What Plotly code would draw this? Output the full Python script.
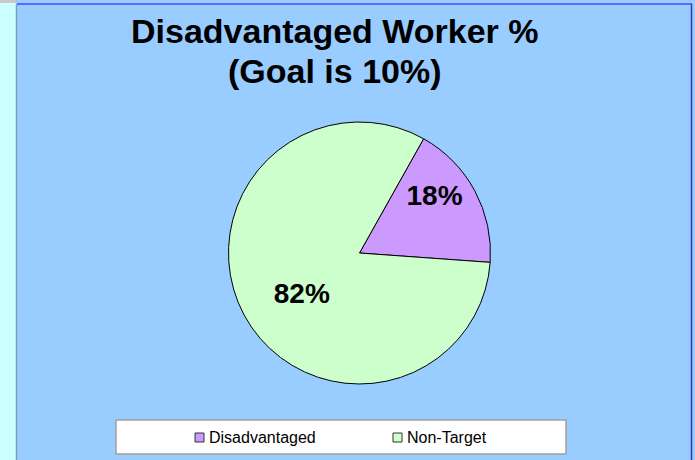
import plotly.graph_objects as go

labels = ["Disadvantaged", "Non-Target"]
values = [18, 82]
colors = ["#CC99FF", "#CCFFCC"]
title_lines = ["Disadvantaged Worker %", "(Goal is 10%)"]

W, H = 695, 460
def px(x): return x / W
def py(y): return 1 - y / H

FONT = "Arial, Liberation Sans"

fig = go.Figure()
fig.add_trace(go.Pie(
    labels=labels, values=values, sort=False,
    direction="clockwise", rotation=29.3,
    marker=dict(colors=colors, line=dict(color="black", width=1)),
    texttemplate=["%{percent:.0%}<br><span style='font-size:12px'> </span>",
                  "<span style='font-size:8px'> </span><br>%{percent:.0%}"],
    textposition="inside",
    insidetextorientation="horizontal",
    textfont=dict(family=FONT, size=28, color="black", weight="bold"),
    domain=dict(x=[px(228), px(491)], y=[py(384), py(122)]),
    hoverinfo="skip", showlegend=False,
))

shapes = [
    dict(type="rect", xref="paper", yref="paper", x0=0, x1=px(16), y0=0, y1=1,
         fillcolor="#CCFFFF", line=dict(width=0), layer="below"),
    dict(type="rect", xref="paper", yref="paper", x0=0, x1=px(16), y0=py(3), y1=1,
         fillcolor="#C8C8C8", line=dict(width=0), layer="below"),
    dict(type="line", xref="paper", yref="paper", x0=px(16.5), x1=px(16.5), y0=0, y1=py(4),
         line=dict(color="#7F9FBF", width=1.5), layer="below"),
    dict(type="line", xref="paper", yref="paper", x0=px(17), x1=px(692), y0=py(4), y1=py(4),
         line=dict(color="#6666FF", width=2), layer="below"),
    dict(type="line", xref="paper", yref="paper", x0=px(691.5), x1=px(691.5), y0=0, y1=py(4),
         line=dict(color="#3333CC", width=1.5), layer="below"),
    dict(type="rect", xref="paper", yref="paper", x0=px(116), x1=px(566), y0=py(454), y1=py(420),
         fillcolor="white", line=dict(color="#A0A0A0", width=1.5), layer="below"),
]

annotations = [
    dict(text="<b>%s</b>" % title_lines[0], x=px(335), y=py(31), xref="paper", yref="paper",
         xanchor="center", yanchor="middle", showarrow=False,
         font=dict(family=FONT, size=34, color="black")),
    dict(text="<b>%s</b>" % title_lines[1], x=px(335), y=py(71), xref="paper", yref="paper",
         xanchor="center", yanchor="middle", showarrow=False,
         font=dict(family=FONT, size=34, color="black")),
]

# custom legend
leg_x = [195, 393]
for lab, col, lx in zip(labels, colors, leg_x):
    shapes.append(dict(type="rect", xref="paper", yref="paper",
                       x0=px(lx), x1=px(lx + 9), y0=py(442), y1=py(433),
                       fillcolor=col, line=dict(color="#333333", width=1)))
    annotations.append(dict(text=lab, x=px(lx + 12), y=py(437.5), xref="paper", yref="paper",
                            xanchor="left", yanchor="middle", showarrow=False,
                            font=dict(family=FONT, size=16, color="black")))

fig.update_layout(
    width=W, height=H,
    margin=dict(l=0, r=0, t=0, b=0, autoexpand=False),
    paper_bgcolor="#99CCFF",
    shapes=shapes,
    annotations=annotations,
    showlegend=False,
)

fig.write_html("out.html", config={"displayModeBar": False},
               post_script="document.body.style.margin='0';")
